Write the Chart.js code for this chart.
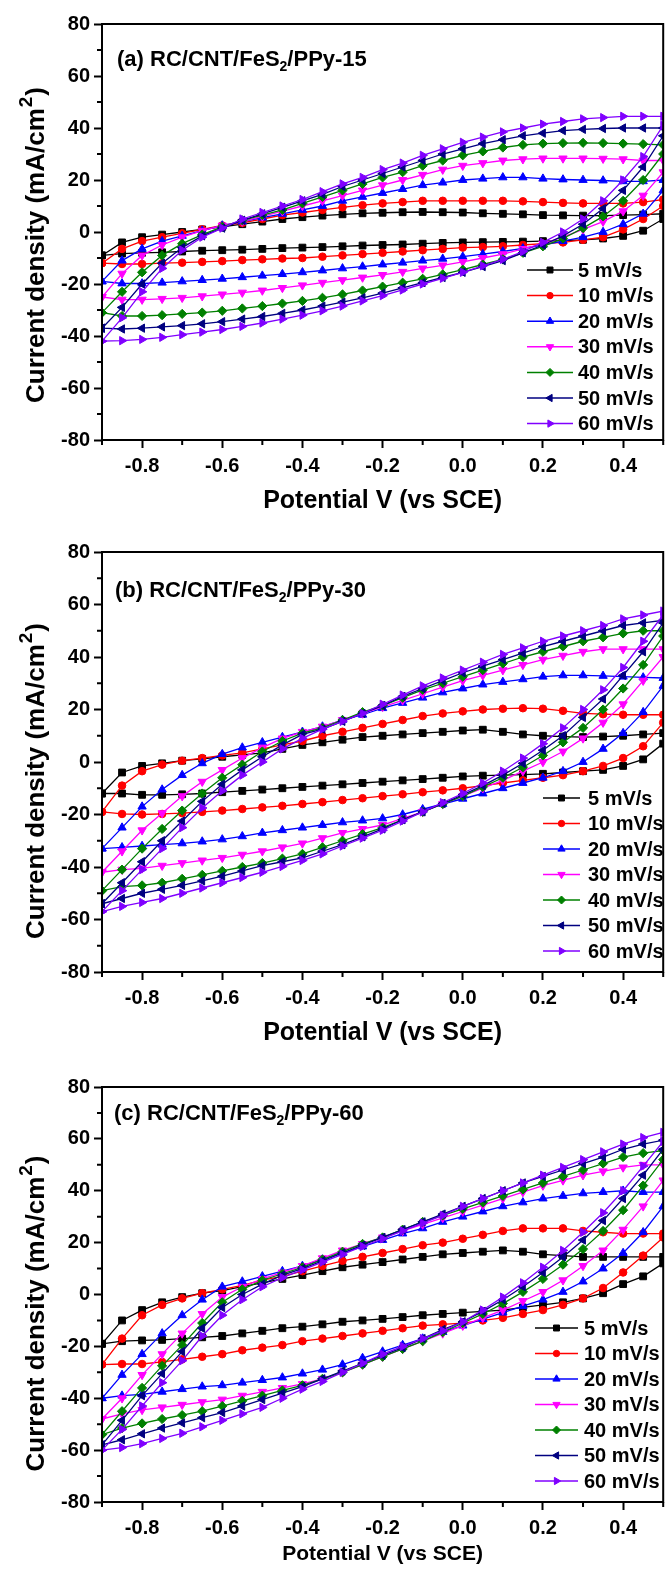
<!DOCTYPE html>
<html>
<head>
<meta charset="utf-8">
<script src="https://cdn.jsdelivr.net/npm/chart.js@4.4.1/dist/chart.umd.min.js"></script>
<style>
  body { margin: 0; background: #fff; }
  #wrap { position: relative; width: 669px; height: 1573px; overflow: hidden; }
  canvas { position: absolute; left: 0; }
</style>
</head>
<body>
<div id="wrap">
  <canvas id="cvA" width="669" height="527" style="top:0px"></canvas>
  <canvas id="cvB" width="669" height="528" style="top:527px"></canvas>
  <canvas id="cvC" width="669" height="518" style="top:1055px"></canvas>
</div>
<script>
const FUENTE = "'Liberation Sans', Arial, sans-serif";

// potencial (V vs SCE), igual para la rama anodica y la catodica
const potentials = [-0.9, -0.85, -0.8, -0.75, -0.7, -0.65, -0.6, -0.55, -0.5, -0.45, -0.4, -0.35, -0.3, -0.25, -0.2,
  -0.15, -0.1, -0.05, 0, 0.05, 0.1, 0.15, 0.2, 0.25, 0.3, 0.35, 0.4, 0.45, 0.5];
const scanRates = ["5 mV/s", "10 mV/s", "20 mV/s", "30 mV/s", "40 mV/s", "50 mV/s", "60 mV/s"];
const xTicks = [-0.8, -0.6, -0.4, -0.2, 0, 0.2, 0.4];
const xMinor = [-0.9, -0.7, -0.5, -0.3, -0.1, 0.1, 0.3, 0.5];
const yTicks = [-80, -60, -40, -20, 0, 20, 40, 60, 80];
const yMinor = [-70, -50, -30, -10, 10, 30, 50, 70];

// (a) PPy-15 : barrido directo / inverso (mA/cm2)
const anodicA = [
  [-9, -4, -2, -1, 0, 1, 2, 3, 4, 5, 5.7, 6.3, 6.8, 7.2, 7.4, 7.6, 7.7, 7.6, 7.5, 7.2, 7, 6.8, 6.5, 6.4, 6.3, 6.3, 6.5, 6.7, 7],
  [-12, -6.5, -3.5, -2, -0.5, 1, 2.5, 3.5, 5, 6.5, 7.5, 8.5, 9.5, 10.3, 11, 11.5, 12, 12, 12, 12, 12, 11.8, 11.5, 11.2, 11, 11, 11, 11.5, 12.5],
  [-19, -11, -6.5, -3.5, -1.5, 0.5, 2.5, 4, 5.5, 7, 8.5, 10, 12, 13.5, 15, 16.5, 18, 19, 20, 20.5, 21, 21, 20.5, 20.2, 20, 19.8, 19.5, 19.5, 20],
  [-25, -16, -9, -5, -2, 0.5, 2.5, 4, 6, 8, 10, 12, 14, 16, 18, 20, 22, 24, 25.5, 26.5, 27.5, 28, 28.3, 28.3, 28.3, 28.2, 28, 27.5, 27.5],
  [-31, -23, -15.5, -9, -4.5, -1, 2, 4.5, 6.5, 8.5, 11, 13.5, 16, 18.5, 21, 23, 25.5, 27.5, 29.5, 31, 32.5, 33.5, 34, 34.2, 34.3, 34.2, 34, 33.8, 33.5],
  [-37, -29, -20, -12, -6, -1.5, 1.5, 4.5, 7, 9.5, 12, 14.5, 17.5, 20, 22.5, 25, 27.5, 30, 32, 34, 35.5, 37, 38, 39, 39.5, 39.8, 40, 40, 40],
  [-42, -33, -23, -14, -7, -2, 1.5, 5, 7.5, 10, 12.5, 15.5, 18.5, 21, 24, 26.5, 29.5, 32, 34.5, 36.5, 38.5, 40, 41.5, 42.5, 43.5, 44, 44.5, 44.5, 44.5]
];
const cathodicA = [
  [-9, -8.3, -8, -7.8, -7.5, -7.2, -7, -6.8, -6.5, -6.2, -6, -5.8, -5.5, -5.2, -5, -4.8, -4.5, -4.2, -4, -3.9, -3.8, -3.7, -3.5, -3.3, -3, -2.5, -1.5, 0.5, 5],
  [-12, -12.3, -12.3, -12, -11.8, -11.5, -11.2, -10.8, -10.5, -10.2, -10, -9.5, -9, -8.5, -8, -7.5, -7, -6.5, -6, -5.8, -5.5, -5, -4.5, -4, -3, -2, 1, 5, 10],
  [-19, -19.8, -19.8, -19.5, -19, -18.5, -18, -17.4, -16.8, -16.2, -15.5, -14.8, -14, -13.3, -12.5, -11.8, -11, -10.3, -9.5, -8.5, -7.5, -6.3, -5, -3.5, -2, 0, 3, 7, 16],
  [-25, -26, -26, -25.7, -25.3, -24.7, -24, -23.3, -22.5, -21.5, -20.5, -19.5, -18.5, -17.5, -16.5, -15.3, -14, -12.8, -11.5, -10, -8.5, -6.5, -4.5, -2, 1, 4, 8, 14, 23],
  [-31, -32.3, -32.3, -32, -31.5, -31, -30.3, -29.4, -28.5, -27.5, -26.5, -25.3, -24, -22.5, -21, -19.5, -18, -16.3, -14.5, -12.5, -10.5, -8, -5.5, -2.5, 1.5, 6, 12, 20, 30],
  [-37, -37.3, -37, -36.5, -36, -35.3, -34.5, -33.5, -32.5, -31.3, -30, -28.5, -27, -25.3, -23.5, -21.5, -19.5, -17.5, -15.5, -13.3, -11, -8, -5, -1.5, 3, 9, 16, 25, 37],
  [-42, -41.8, -41.3, -40.5, -39.5, -38.5, -37.5, -36.3, -35, -33.5, -32, -30.3, -28.5, -26.5, -24.5, -22.3, -20, -17.8, -15.5, -13, -10.5, -7.5, -4, 0, 5, 12, 20, 29, 41]
];

// (b) PPy-30
const anodicB = [
  [-12, -4, -1.5, -0.5, 0.5, 1.2, 2, 2.7, 3.5, 5, 6.5, 7.5, 8.5, 9.5, 10, 10.5, 11, 11.5, 12, 12.3, 11.5, 10.5, 10, 9.7, 9.5, 9.7, 10, 10.5, 11],
  [-19, -9, -3.5, -1, 0.5, 1.5, 2.5, 3.5, 5, 6.5, 8, 10, 11.5, 13, 14.5, 16, 17.5, 18.5, 19.3, 20, 20.3, 20.5, 20.3, 19.5, 18.5, 18.2, 18, 18, 18],
  [-33, -25, -17, -10.5, -5, -0.5, 3, 5.5, 7.5, 9.5, 11.5, 13.5, 16, 18, 20.5, 22.5, 24.5, 26.5, 28, 29.5, 30.5, 31.5, 32.5, 33, 33, 32.8, 32.5, 32.2, 32],
  [-42, -34, -26, -19.5, -13, -7.5, -3, 1.5, 5.5, 9, 11.5, 13.5, 16, 18.5, 21, 23.5, 26, 28.5, 31, 33, 35, 37, 39, 40.5, 42, 43, 43, 43, 43],
  [-49, -41, -33, -25.5, -18.5, -12, -6, -1, 4, 8, 11, 13, 16, 19, 21.5, 24.5, 27.5, 30, 32.5, 35, 37.5, 40, 42, 44, 46, 47.5, 49, 50, 50],
  [-54, -46, -38, -30, -22.5, -15, -8.5, -3, 2, 6.5, 10.5, 12.5, 15.5, 18.5, 21.5, 25, 28, 31, 34, 36.5, 39, 41.5, 44, 46, 48, 50, 52, 53, 54],
  [-57, -49, -41, -33, -25, -17.5, -11, -5, 0, 5, 9, 12.5, 15.5, 18.5, 22, 25.5, 29, 32, 35, 38, 41, 43.5, 46, 48, 50, 52, 54.5, 56, 57.5]
];
const cathodicB = [
  [-12, -12, -12.5, -12.5, -12.3, -12, -11.5, -11, -10.5, -10, -9.5, -9, -8.5, -8, -7.5, -7, -6.5, -6, -5.5, -5.2, -5, -4.8, -4.5, -4, -3.5, -3, -1.5, 1, 7],
  [-19, -19.8, -20, -19.8, -19.5, -19, -18.5, -17.9, -17.3, -16.7, -16, -15.3, -14.5, -13.8, -13, -12.3, -11.5, -10.8, -10, -9, -8, -7, -6, -5, -3.5, -1.5, 1.5, 6, 15],
  [-33, -32.5, -32, -31.5, -31, -30.3, -29.5, -28.3, -27, -26, -25, -24, -23, -22.3, -21.5, -20, -18, -16, -14, -12, -10, -8, -6, -3.5, 0, 5, 11, 19, 29],
  [-42, -41, -40.5, -39.5, -38.5, -37.5, -36.5, -35.3, -34, -32.5, -31, -29, -27, -25.5, -24, -21.5, -19, -16, -13, -10, -7, -3.5, 0, 4, 9, 15, 22, 31, 40],
  [-49, -47.5, -47, -46, -44.5, -43, -41.5, -40, -38.5, -36.8, -35, -32.5, -30, -27.5, -25, -22, -19, -16, -13, -9.5, -6, -2, 2.5, 7.5, 13, 20, 28, 37, 48],
  [-54, -52, -50, -48.5, -47, -45.3, -43.5, -41.5, -39.5, -38, -36.5, -34, -31.5, -28.5, -25.5, -22, -19, -15.8, -12.5, -9, -5, -0.5, 4.5, 10, 17, 24, 33, 42, 53],
  [-57, -55, -53.5, -52, -50, -48, -46, -44, -42, -39.8, -37.5, -35, -32, -29, -26, -22.5, -19, -15.5, -12, -8, -3.5, 1.5, 7, 13, 20, 27.5, 36, 46, 56]
];

// (c) PPy-60
const anodicC = [
  [-19, -10, -6, -3, -1, 0.5, 1.5, 3, 4.5, 6, 7.5, 9, 10.5, 11.5, 12.5, 13.5, 14.5, 15.5, 16, 16.5, 17, 16.5, 15.5, 15, 14.5, 14.5, 14.5, 14.5, 14.5],
  [-27, -17, -8, -4, -1.5, 0.5, 2, 3.5, 5.5, 7, 9, 11, 13, 14.5, 16, 17.5, 19, 20, 21.5, 23, 24.5, 25.5, 25.5, 25.5, 24.5, 24, 23.5, 23.5, 23.5],
  [-40, -31, -23, -15, -8, -2, 3, 5, 7, 9, 11, 13.5, 16, 18.5, 21, 23.5, 25.5, 28, 30, 32, 34, 35.5, 37, 38, 39, 39.5, 40, 39.5, 39.5],
  [-48, -40, -31, -23, -15, -7.5, -1, 3, 6, 8.5, 11, 14, 17, 19.5, 22, 24.5, 27, 29.5, 32, 34.5, 37, 39.5, 42, 44, 46, 47.5, 49, 50, 50],
  [-54, -45, -36, -27.5, -19.5, -11, -3, 2, 5.5, 8, 10.5, 13.5, 16.5, 19.5, 22, 25, 28, 30.5, 33, 35.5, 38, 40.5, 43, 45.5, 48, 50.5, 53, 54.5, 55.5],
  [-58, -48.5, -39, -30.5, -22, -13, -5, 0, 4, 7.5, 10, 13, 16, 19, 22, 25, 28, 31, 34, 37, 40, 43, 45.5, 48, 50.5, 53, 56, 58, 59.5],
  [-60, -52, -43, -34, -25.5, -16, -8, -2, 3, 6.5, 9.5, 12.5, 15.5, 18.5, 21.5, 24.5, 27.5, 30.5, 34, 37, 40, 43, 46, 49, 52, 55, 58, 60.5, 62.5]
];
const cathodicC = [
  [-19, -18, -17.7, -17.5, -17, -16.5, -16, -15, -14, -13, -12.4, -11.5, -10.5, -10, -9.4, -8.7, -8, -7.5, -7, -6.5, -6, -5, -4, -3, -1.5, 0.5, 4, 7, 12],
  [-27, -26.8, -26.8, -26, -25, -24, -23, -21.5, -20.5, -19.5, -18, -17, -16, -15, -14, -13, -12, -11.5, -11, -10, -9, -7.5, -6, -4, -1.5, 2.5, 8.5, 15, 22],
  [-40, -39, -38.5, -37.5, -36.5, -35.5, -35, -34, -33, -32, -30.5, -29, -27, -24.5, -22, -19.5, -17, -14.5, -12, -9.5, -7, -4.5, -2, 1, 5, 10, 16, 24, 34],
  [-48, -46, -44.5, -43.5, -42.5, -41.5, -40.5, -39, -37.5, -36, -34.5, -32.5, -30, -27, -24, -21, -18, -15, -12, -9, -6, -2.5, 1, 5.5, 11, 17, 25, 34, 44],
  [-54, -51.5, -49.7, -48, -46.5, -45, -43, -41, -39, -37, -35, -32.5, -30, -27, -24, -21, -18, -14.5, -11, -7.5, -3.5, 1, 6, 11.5, 17.5, 24.5, 32.5, 42, 52],
  [-58, -56, -53.7, -51.5, -49.5, -47.5, -45.5, -43, -40.5, -38, -35.5, -32.5, -29.5, -26.5, -23.5, -20.5, -17, -13.5, -10.5, -6.5, -2, 3, 8.5, 14.5, 21, 28.5, 37, 46, 56],
  [-60, -59, -57.5, -55.5, -53.5, -51, -48.5, -46, -43.5, -40, -36.5, -33.5, -30, -26.5, -23, -20, -17, -14, -10.5, -6, -1, 4.5, 10.5, 17, 24, 31.5, 40, 49.5, 59]
];

// estilos tipo Origin
const colores = ["#000000", "#ff0000", "#0000ff", "#ff00ff", "#008000", "#000080", "#8000ff"];
const simbolos = ["rect", "circle", "triangle", "triangle", "rectRot", "triangle", "triangle"];
const giros = [0, 0, 0, 180, 0, 270, 90];
const radios = [4.8, 3.8, 4.8, 4.8, 4.6, 4.8, 4.8];

// ARMAR LAZO CERRADO (ida + vuelta)
function armarLazo(ida, vuelta) {
  const pts = [];
  potentials.forEach((v, i) => pts.push({ x: v, y: ida[i] }));
  for (let i = potentials.length - 1; i >= 0; i--) {
    pts.push({ x: potentials[i], y: vuelta[i] });
  }
  return pts;
}

function armarSeries(ida, vuelta) {
  return scanRates.map((nombre, i) => ({
    label: nombre,
    data: armarLazo(ida[i], vuelta[i]),
    showLine: true,
    borderColor: colores[i],
    backgroundColor: colores[i],
    borderWidth: 1.3,
    pointStyle: simbolos[i],
    pointRotation: giros[i],
    pointRadius: radios[i],
    pointBorderWidth: 1,
    tension: 0,
    order: scanRates.length - i
  }));
}

function dibujarMarca(ctx, ds, x, y) {
  ctx.fillStyle = ds.backgroundColor;
  ctx.strokeStyle = ds.borderColor;
  ctx.lineWidth = 1;
  if (Chart.helpers && Chart.helpers.drawPoint) {
    Chart.helpers.drawPoint(ctx, {
      pointStyle: ds.pointStyle, radius: ds.pointRadius - 0.6, rotation: ds.pointRotation, borderWidth: 1
    }, x, y);
  } else {
    ctx.beginPath();
    ctx.arc(x, y, ds.pointRadius, 0, Math.PI * 2);
    ctx.fill();
  }
}

// MARCO, TICKS MENORES, ROTULO, LEYENDA Y TITULO Y
const decorado = {
  id: "decorado",
  afterDraw(chart, args, o) {
    const ctx = chart.ctx;
    const a = chart.chartArea;
    const sx = chart.scales.x;
    const sy = chart.scales.y;
    ctx.save();

    ctx.strokeStyle = "#000";
    ctx.lineWidth = 2;
    ctx.strokeRect(a.left, a.top, a.right - a.left, a.bottom - a.top);

    ctx.beginPath();
    xMinor.forEach(v => {
      const px = sx.getPixelForValue(v);
      ctx.moveTo(px, a.bottom);
      ctx.lineTo(px, a.bottom + 5);
    });
    yMinor.forEach(v => {
      const py = sy.getPixelForValue(v);
      ctx.moveTo(a.left, py);
      ctx.lineTo(a.left - 5, py);
    });
    ctx.stroke();

    // rotulo del panel con subindice
    ctx.fillStyle = "#000";
    ctx.textAlign = "left";
    ctx.textBaseline = "alphabetic";
    let x = o.rotuloX;
    const yb = a.top + o.rotuloDy;
    ctx.font = "bold 22px " + FUENTE;
    ctx.fillText(o.rotulo[0], x, yb);
    x += ctx.measureText(o.rotulo[0]).width;
    ctx.font = "bold 14px " + FUENTE;
    ctx.fillText(o.rotulo[1], x, yb + 5);
    x += ctx.measureText(o.rotulo[1]).width;
    ctx.font = "bold 22px " + FUENTE;
    ctx.fillText(o.rotulo[2], x, yb);

    // leyenda
    ctx.textBaseline = "middle";
    chart.data.datasets.forEach((ds, i) => {
      const y = a.top + o.leyDy + i * o.leyPaso;
      ctx.strokeStyle = ds.borderColor;
      ctx.lineWidth = 1.5;
      ctx.beginPath();
      ctx.moveTo(o.leyX1, y);
      ctx.lineTo(o.leyX2, y);
      ctx.stroke();
      dibujarMarca(ctx, ds, (o.leyX1 + o.leyX2) / 2, y);
      ctx.fillStyle = "#000";
      ctx.font = "bold 20px " + FUENTE;
      ctx.fillText(ds.label, o.leyTx, y + 1);
    });

    // titulo eje Y con superindice
    ctx.save();
    ctx.translate(o.tituloYx, (a.top + a.bottom) / 2 + o.tituloYdesp);
    ctx.rotate(-Math.PI / 2);
    ctx.textBaseline = "middle";
    const t1 = "Current density (mA/cm", t2 = "2", t3 = ")";
    ctx.font = "bold 26px " + FUENTE;
    const w1 = ctx.measureText(t1).width, w3 = ctx.measureText(t3).width;
    ctx.font = "bold 19px " + FUENTE;
    const w2 = ctx.measureText(t2).width;
    let tx = -(w1 + w2 + w3) / 2;
    ctx.font = "bold 26px " + FUENTE;
    ctx.fillText(t1, tx, 0);
    tx += w1;
    ctx.font = "bold 19px " + FUENTE;
    ctx.fillText(t2, tx + 1, -10);
    tx += w2 + 2;
    ctx.font = "bold 26px " + FUENTE;
    ctx.fillText(t3, tx, 0);
    ctx.restore();

    ctx.restore();
  }
};

function crearPanel(idCanvas, ida, vuelta, cfg) {
  const ctx = document.getElementById(idCanvas);
  return new Chart(ctx, {
    type: "scatter",
    data: { datasets: armarSeries(ida, vuelta) },
    options: {
      responsive: false,
      animation: false,
      devicePixelRatio: 1,
      layout: { padding: { top: cfg.arriba, right: 2, left: 0, bottom: 0 } },
      scales: {
        x: {
          type: "linear",
          min: -0.9,
          max: 0.5,
          afterBuildTicks: s => { s.ticks = xTicks.map(v => ({ value: v })); },
          afterFit: s => { s.height = cfg.altoX; },
          border: { display: false },
          grid: { drawOnChartArea: false, tickLength: 8, tickWidth: 2, color: "#000" },
          ticks: {
            color: "#000",
            padding: 6,
            maxRotation: 0,
            font: { family: FUENTE, size: 20, weight: "bold" },
            callback: v => Number(v).toFixed(1)
          },
          title: {
            display: true,
            text: "Potential V (vs SCE)",
            color: "#000",
            font: { family: FUENTE, size: cfg.tamTituloX, weight: "bold" },
            padding: { top: 0, bottom: cfg.padTituloX }
          }
        },
        y: {
          type: "linear",
          min: -80,
          max: 80,
          afterBuildTicks: s => { s.ticks = yTicks.map(v => ({ value: v })); },
          afterFit: s => { s.width = 102; },
          border: { display: false },
          grid: { drawOnChartArea: false, tickLength: 8, tickWidth: 2, color: "#000" },
          ticks: {
            color: "#000",
            padding: 4,
            font: { family: FUENTE, size: 20, weight: "bold" },
            callback: v => String(v)
          }
        }
      },
      plugins: {
        legend: { display: false },
        tooltip: { enabled: false },
        decorado: cfg.deco
      }
    },
    plugins: [decorado]
  });
}

window.onload = () => {
  crearPanel("cvA", anodicA, cathodicA, {
    arriba: 24, altoX: 87, tamTituloX: 25, padTituloX: 11,
    deco: {
      rotulo: ["(a) RC/CNT/FeS", "2", "/PPy-15"], rotuloX: 117, rotuloDy: 42,
      leyX1: 527, leyX2: 573, leyTx: 578, leyDy: 246, leyPaso: 25.6,
      tituloYx: 37, tituloYdesp: 14
    }
  });
  crearPanel("cvB", anodicB, cathodicB, {
    arriba: 25, altoX: 83, tamTituloX: 25, padTituloX: 7,
    deco: {
      rotulo: ["(b) RC/CNT/FeS", "2", "/PPy-30"], rotuloX: 115, rotuloDy: 45,
      leyX1: 543, leyX2: 580, leyTx: 588, leyDy: 246, leyPaso: 25.5,
      tituloYx: 37, tituloYdesp: 20
    }
  });
  crearPanel("cvC", anodicC, cathodicC, {
    arriba: 32, altoX: 71, tamTituloX: 21, padTituloX: 6,
    deco: {
      rotulo: ["(c) RC/CNT/FeS", "2", "/PPy-60"], rotuloX: 114, rotuloDy: 33,
      leyX1: 535, leyX2: 578, leyTx: 584, leyDy: 241, leyPaso: 25.5,
      tituloYx: 37, tituloYdesp: 20
    }
  });
};
</script>
</body>
</html>
